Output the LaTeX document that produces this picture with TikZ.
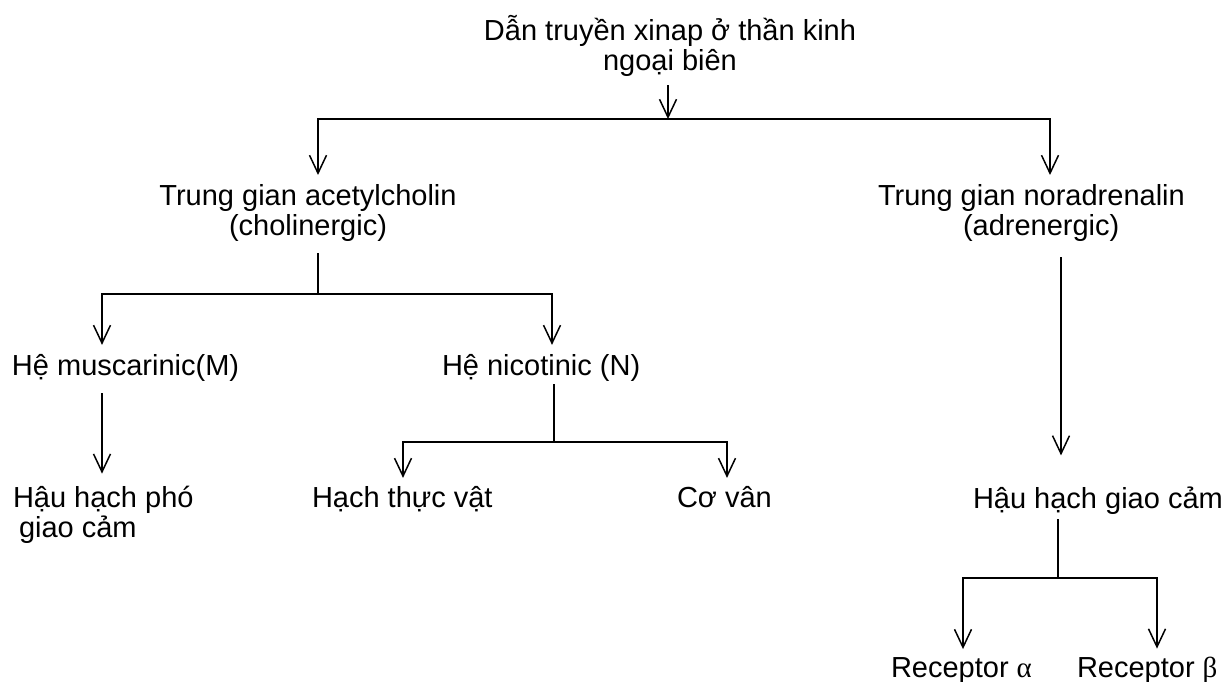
\documentclass[tikz,border=0pt]{standalone}
\usepackage{fontspec}
\setmainfont{Liberation Sans}
\newfontfamily\grk{Liberation Serif}
\usetikzlibrary{arrows.meta}
\begin{document}
\begin{tikzpicture}[x=1pt,y=-1pt,
  lbl/.style={inner sep=0pt,outer sep=0pt,font=\fontsize{29}{30}\selectfont,anchor=base},
  conn/.style={line width=1.5pt,line cap=rect},
  arr/.style={line width=1.5pt,-{Straight Barb[length=18pt,width=17pt,line width=1.5pt]}}]
\fill[white] (0,0) rectangle (1226,681);
\useasboundingbox (0,0) rectangle (1226,681);

% nodes (multi-line nodes are placed by the baseline of their last line)
\node[lbl,align=center] (top) at (670,70) {Dẫn truyền xinap ở thần kinh\\ngoại biên};
\node[lbl,align=center] (ach) at (308,235) {Trung gian acetylcholin\\(cholinergic)};
\node[lbl,align=left,anchor=base west] (nor) at (878,235) {Trung gian noradrenalin\\\hspace*{85pt}(adrenergic)};
\node[lbl,anchor=base west] (musc) at (12,375) {Hệ muscarinic(M)};
\node[lbl,anchor=base west] (nico) at (442,375) {Hệ nicotinic (N)};
\node[lbl,anchor=base west,align=left] (hau) at (13,537) {Hậu hạch phó\\\hspace*{6pt}giao cảm};
\node[lbl,anchor=base west] (htv) at (312,507) {Hạch thực vật};
\node[lbl,anchor=base west] (cov) at (677,507) {Cơ vân};
\node[lbl,anchor=base west] (hgc) at (973,508) {Hậu hạch giao cảm};
\node[lbl,anchor=base west] (ra) at (891,677) {Receptor {\grk α}};
\node[lbl,anchor=base west] (rb) at (1077,677) {Receptor {\grk β}};

% junction coordinates
\coordinate (c0) at (668,119);
\coordinate (hL) at (318,119);
\coordinate (hR) at (1050,119);
\coordinate (m1) at (318,294);
\coordinate (mL) at (102,294);
\coordinate (mR) at (552,294);
\coordinate (n1) at (554,442);
\coordinate (nL) at (403,442);
\coordinate (nR) at (727,442);
\coordinate (aX) at (1061,300);
\coordinate (r1) at (1058,578);
\coordinate (rL) at (963,578);
\coordinate (rR) at (1157,578);

% connectors
\draw[arr,shorten <=9pt] (top.south -| c0) -- (c0);
\draw[conn] (hL) -- (hR);
\draw[arr,shorten >=9pt] (hL) -- (hL |- ach.north);
\draw[arr,shorten >=9pt] (hR) -- (hR |- nor.north);

\draw[conn,shorten <=13pt] (ach.south -| m1) -- (m1);
\draw[conn] (mL) -- (mR);
\draw[arr,shorten >=9pt] (mL) -- (mL |- musc.north);
\draw[arr,shorten >=9pt] (mR) -- (mR |- nico.north);

\draw[arr,shorten <=12pt,shorten >=12pt] (musc.south -| mL) -- (mL |- hau.north);

\draw[conn,shorten <=4pt] (nico.south -| n1) -- (n1);
\draw[conn] (nL) -- (nR);
\draw[arr,shorten >=8pt] (nL) -- (nL |- htv.north);
\draw[arr,shorten >=8pt] (nR) -- (nR |- cov.north);

\draw[arr,shorten <=16pt,shorten >=31pt] (nor.south -| aX) -- (aX |- hgc.north);

\draw[conn,shorten <=6pt] (hgc.south -| r1) -- (r1);
\draw[conn] (rL) -- (rR);
\draw[arr,shorten >=8pt] (rL) -- (rL |- ra.north);
\draw[arr,shorten >=8pt] (rR) -- (rR |- rb.north);
\end{tikzpicture}
\end{document}
